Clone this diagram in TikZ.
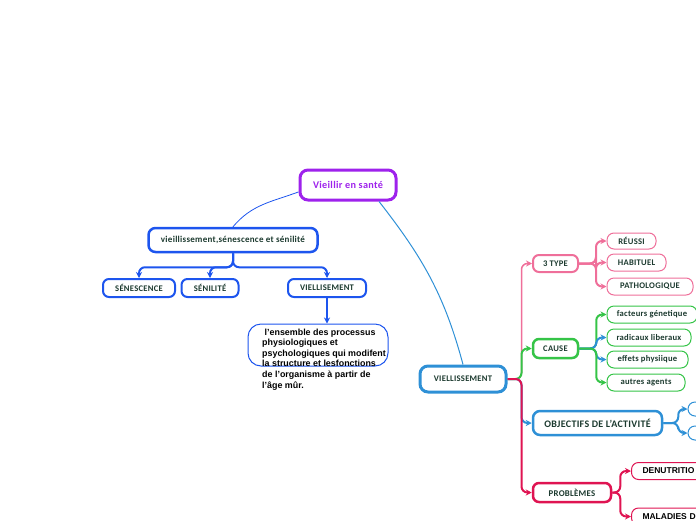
\documentclass[tikz,border=0pt]{standalone}
\usepackage{fontspec}
\setmainfont{Carlito}[LetterSpace=3]
\newfontfamily\arialfont{Liberation Sans}
\usetikzlibrary{arrows.meta,calc}
\definecolor{mauve}{HTML}{9E22EC}
\definecolor{bleu}{HTML}{1D55EE}
\definecolor{ciel}{HTML}{2E90D6}
\definecolor{rose}{HTML}{EF6F9A}
\definecolor{vert}{HTML}{35C447}
\definecolor{cramoisi}{HTML}{DF1452}
\definecolor{encre}{HTML}{1C3A2F}
\begin{document}
\begin{tikzpicture}[x=1pt,y=-1pt,
  boite/.style={draw,fill=white,rounded corners=6pt,text=encre,inner sep=0pt,
    font=\bfseries\fontsize{8.6}{10}\selectfont},
  feuille/.style={boite,line width=1pt,rounded corners=7pt,minimum height=17pt},
  fleche/.style={line width=2pt,rounded corners=6pt,-{Stealth[length=6pt,width=6pt]}},
  ]
\clip (0,0) rectangle (696,520);
% racine et branche gauche
\node[boite,draw=mauve,text=mauve,line width=3pt,rounded corners=8pt,minimum width=96pt,minimum height=30pt,
  font=\bfseries\fontsize{10.2}{12}\selectfont] (sante) at (348,185) {Vieillir en santé};
\node[boite,draw=bleu,line width=2.5pt,rounded corners=7pt,minimum width=169pt,minimum height=24pt,
  font=\bfseries\fontsize{9}{11}\selectfont] (vsen) at (233,240) {vieillissement,sénescence et sénilité};
\node[boite,draw=bleu,line width=2pt,minimum width=72pt,minimum height=18pt] (sen) at (139,288) {SÉNESCENCE};
\node[boite,draw=bleu,line width=2pt,minimum width=57pt,minimum height=18pt] (senil) at (210,288) {SÉNILITÉ};
\node[boite,draw=bleu,line width=2pt,minimum width=78pt,minimum height=18pt] (viel1) at (327,288) {VIELLISEMENT};
\node[draw=bleu,line width=1pt,rounded corners=13pt,minimum width=140pt,minimum height=42pt] (desc) at (318,345) {};
\node[anchor=north west,align=left,inner sep=0pt,font=\arialfont\bfseries\fontsize{8.9}{10.6}\selectfont] (desctxt) at (262,328.5)
  {\ l’ensemble des processus\\physiologiques et\\psychologiques qui modifent\\la structure et lesfonctions\\de l’organisme à partir de\\l’âge mûr.};

\draw[bleu,line width=0.8pt] (vsen.north) to[out=50,in=200] (sante.188);
\coordinate (sj) at ($(vsen.south)+(0,14)$);
\draw[fleche,bleu] (vsen.south) -- (sj) -| (sen.north);
\draw[fleche,bleu] (vsen.south) -- (sj) -| (senil.north);
\draw[fleche,bleu] (vsen.south) -- (sj) -| (viel1.north);
\draw[bleu,line width=1.5pt,-{Stealth[length=6pt,width=6pt]}] (viel1.south) -- (viel1.south |- desc.north);

% branche droite
\node[boite,draw=ciel,line width=3pt,rounded corners=8pt,minimum width=86pt,minimum height=26pt] (viel2) at (463,379) {VIELLISSEMENT};
\draw[ciel,line width=1pt] (sante.-28) to[out=-52,in=105] (viel2.north);

\node[boite,draw=rose,line width=2pt,minimum width=45pt,minimum height=17pt,font=\bfseries\fontsize{8.6}{10}\selectfont] (type) at (555.5,263.5) {3 TYPE};
\node[boite,draw=vert,line width=2.5pt,minimum width=45pt,minimum height=19pt,font=\bfseries\fontsize{8.6}{10}\selectfont] (cause) at (555.5,348.5) {CAUSE};
\node[boite,draw=ciel,line width=2.5pt,rounded corners=7pt,minimum width=129pt,minimum height=24pt,font=\bfseries\fontsize{10}{12}\selectfont] (obj) at (597.5,423) {OBJECTIFS DE L’ACTIVITÉ};
\node[boite,draw=cramoisi,line width=2.5pt,minimum width=78pt,minimum height=19pt,font=\bfseries\fontsize{8.8}{10}\selectfont] (prob) at (572,492.5) {PROBLÈMES};

\coordinate (vj) at ($(viel2.east)+(14,0)$);
\draw[fleche,rose,line width=1.5pt] (viel2.east) -- (vj) |- (type.west);
\draw[fleche,vert] (viel2.east) -- (vj) |- (cause.west);
\draw[fleche,ciel] (viel2.east) -- (vj) |- (obj.west);
\draw[fleche,cramoisi] (viel2.east) -- (vj) |- (prob.west);

% 3 TYPE
\node[feuille,draw=rose,minimum width=49pt,minimum height=16pt] (reussi) at (631.5,241) {RÉUSSI};
\node[feuille,draw=rose,minimum width=59pt] (habit) at (636.5,262.5) {HABITUEL};
\node[feuille,draw=rose,minimum width=86pt] (patho) at (650,286.5) {PATHOLOGIQUE};
\coordinate (tj) at ($(type.east)+(17,0)$);
\foreach \f in {reussi,habit,patho}
  \draw[fleche,rose] (type.east) -- (tj) |- (\f.west);

% CAUSE
\node[feuille,draw=vert,minimum width=90pt] (fact) at (652,314.5) {facteurs génetique};
\node[feuille,draw=vert,minimum width=84pt] (radic) at (649,337.5) {radicaux liberaux};
\node[feuille,draw=vert,minimum width=81pt] (effets) at (647.5,359.5) {effets physiique};
\node[feuille,draw=vert,minimum width=78pt] (autres) at (646,382.5) {autres agents};
\coordinate (cj) at ($(cause.east)+(17,0)$);
\draw[fleche,vert] (cause.east) -- (cj) |- (fact.west);
\draw[fleche,ciel] (cause.east) -- (cj) |- (radic.west);
\draw[fleche,ciel] (cause.east) -- (cj) |- (effets.west);
\draw[fleche,vert] (cause.east) -- (cj) |- (autres.west);

% OBJECTIFS
\node[feuille,draw=ciel,minimum width=40pt,minimum height=14pt] (obj1) at (708,409) {};
\node[feuille,draw=ciel,minimum width=40pt,minimum height=14pt] (obj2) at (708,433) {};
\coordinate (oj) at ($(obj.east)+(15,0)$);
\foreach \f in {obj1,obj2}
  \draw[fleche,ciel] (obj.east) -- (oj) |- (\f.west);

% PROBLEMES
\node[feuille,draw=cramoisi,anchor=west,text=black,text width=80pt,align=left,inner xsep=11pt,
  font=\arialfont\bfseries\fontsize{8.5}{10}\selectfont] (denut) at (631,471) {DENUTRITIO};
\node[feuille,draw=cramoisi,anchor=west,text=black,text width=80pt,align=left,inner xsep=11pt,
  font=\arialfont\bfseries\fontsize{8.5}{10}\selectfont] (malad) at (631,516.5) {MALADIES D};
\coordinate (pj) at ($(prob.east)+(8,0)$);
\foreach \f in {denut,malad}
  \draw[fleche,cramoisi] (prob.east) -- (pj) |- (\f.west);
\end{tikzpicture}
\end{document}
